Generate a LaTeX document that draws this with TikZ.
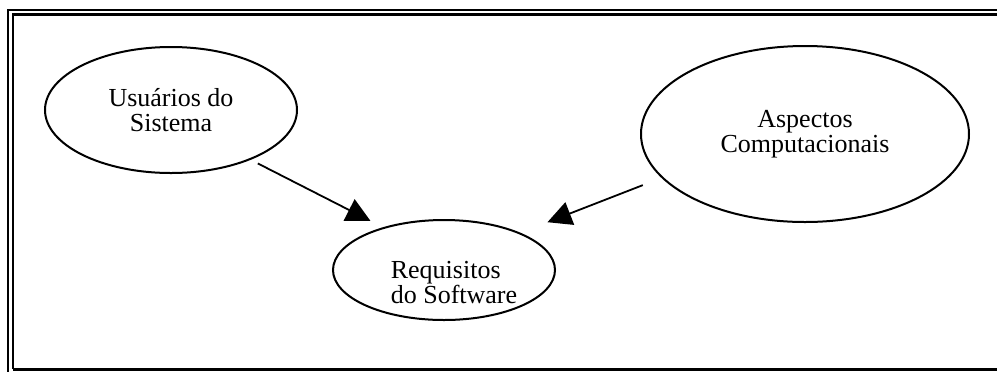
\documentclass[tikz,border=0pt]{standalone}
\usepackage{fontspec}
\setmainfont{Liberation Serif}
\usetikzlibrary{shapes.geometric, arrows.meta}

\begin{document}
\begin{tikzpicture}[x=0.5pt, y=-0.5pt,
    font=\fontsize{13}{12.5}\selectfont,
    oval/.style={ellipse, draw, line width=1pt, inner sep=0pt},
    seta/.style={-{Triangle[length=12pt, width=12pt]}, line width=0.9pt}]
    \useasboundingbox (0,0) rectangle (997,371);

    % moldura dupla
    \draw[line width=1pt] (7.75,400) -- (7.75,9.5) -- (1010,9.5);
    \draw[line width=1.25pt] (12.75,369) -- (12.75,14.5) -- (1010,14.5);
    \draw[line width=1.5pt] (12.75,369) -- (1010,369);

    % elipses
    \node[oval, minimum width=126pt, minimum height=63pt, align=center] (usu) at (171,110) {Usuários do\\Sistema};
    \node[oval, minimum width=164pt, minimum height=88pt, align=center] (asp) at (805,134) {Aspectos\\Computacionais};
    \node[oval, minimum width=111pt, minimum height=50pt] (req) at (444,270) {};
    \node[align=left] (reqtxt) at (454,283) {Requisitos\\do Software};

    % setas
    \draw[seta, shorten <=4pt, shorten >=7pt] (usu.-32) -- (req.145);
    \draw[seta, shorten <=10pt, shorten >=14.5pt] (asp.197) -- (req.26);

\end{tikzpicture}
\end{document}
